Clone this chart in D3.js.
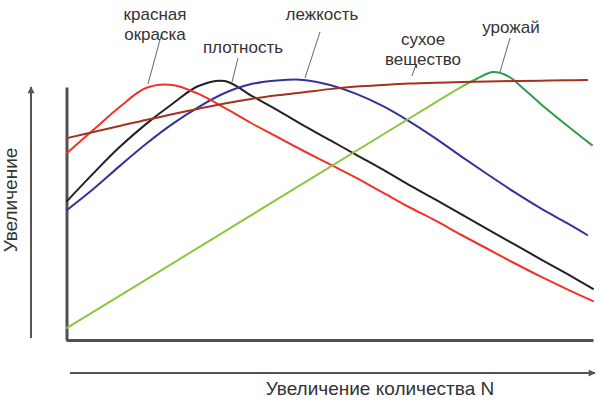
<!DOCTYPE html>
<html><head><meta charset="utf-8">
<script src="https://cdn.jsdelivr.net/npm/d3@7"></script>
<style>html,body{margin:0;padding:0;background:#fff;} svg{display:block;}</style>
</head><body>
<svg id="chart" width="600" height="408"></svg>
<script>
// ---- data (relative units: N level 0–100, increase 0–100) ----
const nLevels      = [0,5,10,15,20,25,30,35,40,45,50,55,60,65,70,75,80,85,90,95,100];
const nLevelsShort = [0,5,10,15,20,25,30,35,40,45,50,55,60,65,70,75,80,85,90,95,98.9];
const redColoring  = [66.8,75.0,83.2,90.0,91.1,87.9,82.9,77.5,72.5,67.5,62.7,57.9,52.7,47.5,42.7,37.5,32.5,27.5,22.7,18.2,13.9]; // красная окраска
const density      = [49.6,59.5,68.9,77.1,84.3,90.7,92.5,87.3,82.1,76.6,71.4,66.1,60.9,55.4,50.2,44.9,39.5,34.2,28.9,23.7,18.3]; // плотность
const storability  = [46.4,53.9,62.1,70.0,77.1,83.2,88.2,91.4,92.7,92.9,91.1,87.9,83.6,78.2,72.1,65.5,59.1,52.9,47.1,41.8,37.5]; // лежкость
const dryMatter    = [72.1,74.3,76.4,78.6,80.6,82.6,84.5,86.1,87.4,88.5,89.6,90.5,91.1,91.6,91.9,92.1,92.3,92.5,92.6,92.75,92.9]; // сухое вещество
const yieldN       = [0,20,40,60,70,75,78,81,84,86,90,95,99.8];
const yieldValues  = [4.3,27.3,50.3,73.3,84.8,90.4,93.4,95.7,94.1,91.1,84.4,76.7,69.6]; // урожай

const labelTexts = {
  red: ["красная","окраска"],
  density: ["плотность"],
  storability: ["лежкость"],
  dry: ["сухое","вещество"],
  yield: ["урожай"]
};
const xTitle = "Увеличение количества N";
const yTitle = "Увеличение";

// ---- layout ----
const svg = d3.select("#chart");
const x = d3.scaleLinear().domain([0,100]).range([67,593]);
const y = d3.scaleLinear().domain([0,100]).range([340,60]);
const font = "'Liberation Sans', Arial, sans-serif";
const textColor = "#333333";

const defs = svg.append("defs");
defs.append("marker").attr("id","arr").attr("viewBox","0 0 10 10")
  .attr("refX",9).attr("refY",5).attr("markerUnits","userSpaceOnUse")
  .attr("markerWidth",8).attr("markerHeight",7).attr("orient","auto")
  .append("path").attr("d","M0,0L10,5L0,10z").attr("fill","#555");

const grad = defs.append("linearGradient").attr("id","greenGrad")
  .attr("gradientUnits","userSpaceOnUse")
  .attr("x1",x(74)).attr("x2",x(79)).attr("y1",0).attr("y2",0);
grad.append("stop").attr("offset","0").attr("stop-color","#8cc63f");
grad.append("stop").attr("offset","1").attr("stop-color","#2f9a4a");

// outer arrows
svg.append("line").attr("x1",31).attr("y1",338).attr("x2",31).attr("y2",87)
  .attr("stroke","#555").attr("stroke-width",2).attr("marker-end","url(#arr)");
svg.append("line").attr("x1",70).attr("y1",373).attr("x2",595).attr("y2",373)
  .attr("stroke","#555").attr("stroke-width",2).attr("marker-end","url(#arr)");

// inner axes
const yAxisScale = d3.scaleLinear().domain([0,1]).range([340,87]);
const xAxisScale = d3.scaleLinear().domain([0,1]).range([66,593]);
svg.append("g").attr("transform","translate(66.5,0)")
  .call(d3.axisLeft(yAxisScale).ticks(0).tickSizeOuter(0));
svg.append("g").attr("transform","translate(0,340)")
  .call(d3.axisBottom(xAxisScale).ticks(0).tickSizeOuter(0));
svg.selectAll(".domain").attr("stroke","#505050").attr("stroke-width",3);

// curves
const line = d3.line().x(d=>x(d[0])).y(d=>y(d[1])).curve(d3.curveCatmullRom.alpha(0.5));
const series = [
  {xs:nLevels, ys:density, color:"#222222"},
  {xs:nLevelsShort, ys:storability, color:"#33339a"},
  {xs:nLevels, ys:redColoring, color:"#f2322a"},
  {xs:yieldN, ys:yieldValues, color:"url(#greenGrad)"},
  {xs:nLevelsShort, ys:dryMatter, color:"#a2321f"}
];
series.forEach(s=>{
  svg.append("path").datum(s.xs.map((v,i)=>[v,s.ys[i]]))
    .attr("d",line).attr("fill","none").attr("stroke",s.color)
    .attr("stroke-width",2).attr("stroke-linejoin","round").attr("stroke-linecap","round");
});

// leader lines
const leaders = [[161,36,148,84],[238,58,232,82],[320,32,305,78],[416,64,412,76],[510,38,500,72]];
leaders.forEach(l=>svg.append("line").attr("x1",l[0]).attr("y1",l[1]).attr("x2",l[2]).attr("y2",l[3])
  .attr("stroke","#666").attr("stroke-width",1));

// labels (multi-line labels as one text element with tspans)
const labelPos = {
  red:[155,20], density:[243,53], storability:[322,20], dry:[423,45], yield:[511,33]
};
const lineGap = 19.5;
Object.keys(labelTexts).forEach(k=>{
  const [cx, by] = labelPos[k];
  const t = svg.append("text").attr("x",cx).attr("y",by).attr("text-anchor","middle")
    .attr("font-family",font).attr("font-size",17).attr("fill",textColor);
  labelTexts[k].forEach((s,i)=>{
    t.append("tspan").attr("x",cx).attr("dy", i===0 ? 0 : lineGap).text(s);
  });
});

svg.append("text").attr("x",380).attr("y",395).attr("text-anchor","middle")
  .attr("font-family",font).attr("font-size",19).attr("fill",textColor).text(xTitle);
svg.append("text").attr("transform","translate(17,200) rotate(-90)").attr("text-anchor","middle")
  .attr("font-family",font).attr("font-size",19).attr("fill",textColor).text(yTitle);
</script>
</body></html>
